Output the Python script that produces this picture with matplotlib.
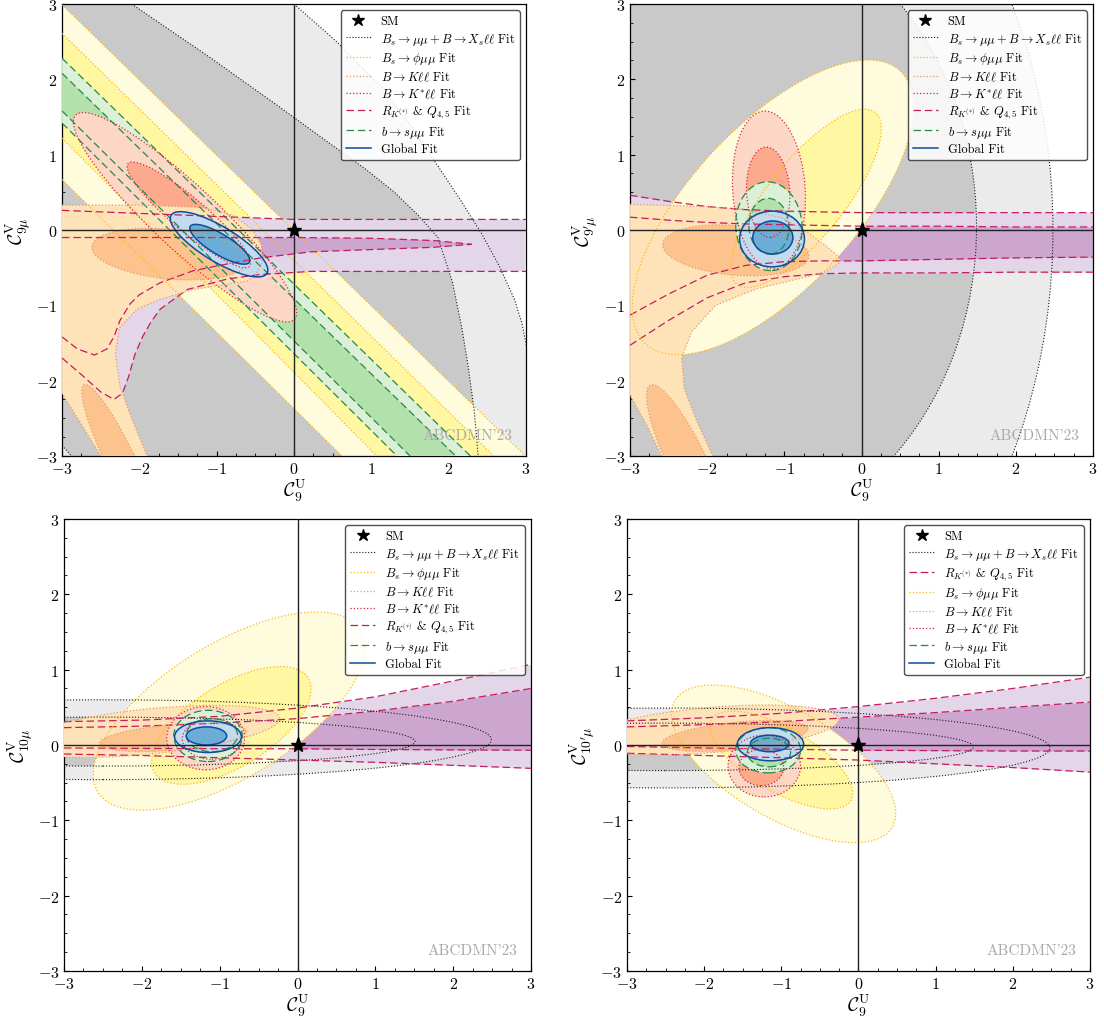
#!/usr/bin/env python3
import numpy as np
import matplotlib
matplotlib.use('Agg')
import matplotlib.pyplot as plt
from matplotlib.patches import Ellipse
from matplotlib.lines import Line2D
from matplotlib.ticker import MultipleLocator, AutoMinorLocator

plt.rcParams.update({
    'font.family': 'serif',
    'font.serif': ['cmr10'],
    'mathtext.fontset': 'cm',
    'axes.formatter.use_mathtext': True,
    'axes.linewidth': 0.9,
})

# ---------------- data ----------------
# ellipses: (x0, y0, width, height, angle), listed as [2 sigma, 1 sigma]
# straight bands: (y at x=-3, x at y=-3) for upper and lower edge

# top left: C9U vs C9muV
tl_gray_outer_x = [0.0, 0.55, 1.12, 1.5, 1.86, 2.15, 2.42, 2.65, 2.85, 2.95, 3.02]
tl_gray_outer_y = [3.0, 2.5, 1.91, 1.4, 0.85, 0.4, -0.04, -0.47, -0.92, -1.25, -1.62]
tl_gray_inner_x = [-2.1, -1.1, -0.17, 0.5, 0.91, 1.3, 1.6, 1.86, 2.05, 2.17, 2.25, 2.33, 2.38]
tl_gray_inner_y = [3.0, 2.3, 1.62, 1.12, 0.82, 0.5, 0.2, -0.1, -0.7, -1.3, -1.8, -2.4, -3.0]
tl_gray_corner_x = [-3.0, -2.88]
tl_gray_corner_y = [-2.86, -3.0]
tl_phi_2s = [(2.99, 2.99), (0.67, 0.62)]
tl_phi_1s = [(2.61, 2.58), (1.22, 1.07)]
tl_bsmm_2s = [(2.28, 2.28), (1.42, 1.33)]
tl_bsmm_1s = [(2.08, 2.09), (1.58, 1.50)]
tl_kll_x = [-3.0, -2.0, -1.2, -0.8, -0.55, -0.42, -0.42, -0.5, -0.61, -1.3, -1.73,
            -2.03, -2.26, -2.31, -2.25, -2.12, -1.9]
tl_kll_y = [0.33, 0.33, 0.3, 0.2, 0.02, -0.2, -0.45, -0.6, -0.68, -0.79, -0.92,
            -1.05, -1.3, -1.65, -2.08, -2.45, -3.0]
tl_kll_left_x = [-2.5, -2.75, -3.0]
tl_kll_left_y = [-3.0, -2.58, -2.17]
tl_kll_1s = [(-1.61, -0.32, 2.02, 0.66, -5.7), (-2.25, -3.05, 2.2, 0.38, 115)]
tl_ksll = [(-1.41, 0.17, 3.92, 0.84, -43.8), (-1.36, 0.2, 2.08, 0.44, -41)]
tl_glob = [(-0.97, -0.19, 1.46, 0.46, -32), (-0.96, -0.19, 0.9, 0.27, -32)]
tl_rk_top2_x = [-3.0, -1.5, 0.0, 3.0]
tl_rk_top2_y = [0.26, 0.2, 0.14, 0.14]
tl_rk_bot2_x = [-3.0, -2.75, -2.5, -2.33, -2.22, -2.14, -2.06, -1.96, -1.85, -1.73,
                -1.38, -0.86, -0.43, 0.22, 3.0]
tl_rk_bot2_y = [-1.7, -1.92, -2.15, -2.25, -2.17, -1.95, -1.66, -1.42, -1.22, -1.05,
                -0.79, -0.65, -0.59, -0.55, -0.55]
tl_rk_top1_x = [-3.0, 0.0, 1.0, 1.8, 2.3]
tl_rk_top1_y = [-0.1, -0.1, -0.11, -0.14, -0.19]
tl_rk_bot1_x = [-3.0, -2.8, -2.58, -2.42, -2.33, -2.25, -2.12, -2.0, -1.73, -1.3,
                -0.86, -0.43, 0.22, 1.0, 1.8, 2.3]
tl_rk_bot1_y = [-1.42, -1.58, -1.66, -1.58, -1.42, -1.2, -0.98, -0.86, -0.7, -0.54,
                -0.45, -0.37, -0.29, -0.26, -0.23, -0.19]

# top right: C9U vs C9'muV
tr_gray = [(-2.0, 0.0, 8.96, 12.7, 0), (-2.0, 0.05, 6.98, 8.46, 0)]
tr_rk_x = [-3.0, -2.5, -2.0, -1.5, -1.0, -0.5, 0.0, 1.0, 2.0, 3.0]
tr_rk_top2 = [0.46, 0.38, 0.31, 0.27, 0.25, 0.24, 0.23, 0.23, 0.23, 0.23]
tr_rk_top1 = [0.17, 0.13, 0.1, 0.08, 0.07, 0.06, 0.05, 0.05, 0.04, 0.04]
tr_rk_bot1 = [-1.13, -0.85, -0.6, -0.47, -0.42, -0.41, -0.41, -0.39, -0.37, -0.36]
tr_rk_bot2 = [-1.53, -1.2, -0.9, -0.7, -0.62, -0.58, -0.57, -0.57, -0.56, -0.56]
tr_phi = [(-1.15, 0.3, 4.9, 2.14, 48), (-0.72, 0.42, 2.9, 1.0, 52)]
tr_kll_x = [-3.0, -2.0, -1.6, -1.05, -0.7, -0.45, -0.3, -0.28, -0.45, -0.7, -1.36,
            -1.89, -2.2, -2.33, -2.3, -2.15, -1.93]
tr_kll_y = [0.34, 0.31, 0.28, 0.17, -0.03, -0.22, -0.35, -0.43, -0.55, -0.62, -0.78,
            -1.0, -1.35, -1.69, -2.1, -2.5, -3.0]
tr_kll_left_x = [-2.59, -2.78, -3.0]
tr_kll_left_y = [-3.0, -2.6, -2.19]
tr_kll_1s = [(-1.63, -0.27, 1.9, 0.66, -5), (-2.25, -3.1, 2.3, 0.5, 115)]
tr_ksll = [(-1.2, 0.53, 0.94, 2.1, 3.5), (-1.21, 0.5, 0.56, 1.2, 3)]
tr_bsmm = [(-1.2, 0.05, 0.86, 1.18, 4), (-1.2, 0.05, 0.52, 0.74, 3)]
tr_glob = [(-1.16, -0.12, 0.84, 0.74, 0), (-1.15, -0.1, 0.52, 0.44, 0)]

# bottom left: C9U vs C10muV
bl_gray = [(-2.5, 0.07, 9.98, 1.06, 0), (-2.5, 0.045, 8.02, 0.65, 0)]
bl_rk_x = [-3.0, -2.0, -1.0, 0.0, 1.0, 2.0, 3.0]
bl_rk_top2 = [0.31, 0.33, 0.38, 0.49, 0.64, 0.85, 1.07]
bl_rk_top1 = [0.23, 0.25, 0.29, 0.35, 0.45, 0.58, 0.75]
bl_rk_bot1 = [-0.04, -0.045, -0.05, -0.05, -0.06, -0.065, -0.07]
bl_rk_bot2 = [-0.12, -0.14, -0.17, -0.2, -0.23, -0.27, -0.31]
bl_phi = [(-0.88, 0.45, 4.0, 1.76, 33), (-0.85, 0.26, 2.34, 1.08, 33)]
bl_kll = [(-1.9, 0.18, 3.36, 0.6, 6), (-1.6, 0.1, 1.9, 0.34, 5)]
bl_ksll = [(-1.18, 0.09, 1.0, 0.84, 0), (-1.1, 0.08, 0.76, 0.54, 0)]
bl_bsmm = [(-1.15, 0.12, 0.88, 0.68, 0), (-1.1, 0.13, 0.66, 0.44, 0)]
bl_glob = [(-1.15, 0.11, 0.86, 0.42, 0), (-1.17, 0.12, 0.52, 0.24, 0)]

# bottom right: C9U vs C10'muV
br_gray = [(-2.5, -0.04, 9.96, 1.06, 0), (-2.5, -0.025, 7.98, 0.63, 0)]
br_rk_x = [-3.0, -2.0, -1.0, 0.0, 1.0, 2.0, 3.0]
br_rk_top2 = [0.32, 0.36, 0.42, 0.51, 0.62, 0.75, 0.9]
br_rk_top1 = [0.24, 0.27, 0.31, 0.37, 0.43, 0.5, 0.57]
br_rk_bot1 = [-0.02, -0.04, -0.055, -0.07, -0.075, -0.08, -0.08]
br_rk_bot2 = [-0.11, -0.14, -0.17, -0.2, -0.25, -0.3, -0.36]
br_phi = [(-0.97, -0.25, 3.28, 1.44, -31), (-1.0, -0.2, 2.1, 0.84, -31)]
br_kll = [(-1.9, 0.2, 3.3, 0.6, 5), (-1.6, 0.12, 1.9, 0.36, 6)]
br_ksll = [(-1.22, -0.28, 0.94, 0.82, 0), (-1.26, -0.3, 0.58, 0.48, 0)]
br_bsmm = [(-1.17, -0.07, 0.84, 0.6, 0), (-1.16, -0.1, 0.56, 0.38, 0)]
br_glob = [(-1.14, 0.01, 0.86, 0.44, 0), (-1.15, 0.02, 0.5, 0.22, 0)]

labels = {
    'sm': 'SM',
    'gray': r'$B_s\to\mu\mu + B\to X_s\ell\ell$ Fit',
    'phi': r'$B_s\to\phi\mu\mu$ Fit',
    'kll': r'$B\to K\ell\ell$ Fit',
    'ksll': r'$B\to K^{*}\ell\ell$ Fit',
    'rk': r'$R_{K^{(*)}}$ & $Q_{4,5}$ Fit',
    'bsmm': r'$b\to s\mu\mu$ Fit',
    'glob': 'Global Fit',
}
order_main = ['sm', 'gray', 'phi', 'kll', 'ksll', 'rk', 'bsmm', 'glob']
order_br = ['sm', 'gray', 'rk', 'phi', 'kll', 'ksll', 'bsmm', 'glob']

# ---------------- styles ----------------
sty = {
    'gray': dict(c1='#c9c9c9', c2='#ebebeb', lc='#1a1a1a', ls=':', lw=0.8),
    'phi':  dict(c1='#fff7a1', c2='#fffbdd', lc='#fdb813', ls=':', lw=0.9),
    'kll':  dict(c1='#fdc38e', c2='#fee3b9', lc='#e39a68', ls=':', lw=0.9),
    'ksll': dict(c1='#fca98e', c2='#fdd7c6', lc='#d7263d', ls=':', lw=0.9),
    'rk':   dict(c1='#cda6d0', c2='#e3d6e9', lc='#c51b60', ls=(0, (6, 3)), lw=0.9),
    'bsmm': dict(c1='#b4e0ac', c2='#dbf0d6', lc='#238b45', ls=(0, (6, 3)), lw=0.9),
    'glob': dict(c1='#6badd6', c2='#c4daef', lc='#0c4e9b', ls='-', lw=1.1),
}
LZ = 10


def line(ax, x, y, s):
    ax.plot(x, y, color=s['lc'], ls=s['ls'], lw=s['lw'], zorder=LZ)


def add_ell(ax, ells, s, z):
    for e, fc, dz in ((ells[0], s['c2'], 0), (ells[1], s['c1'], 0.1)):
        ax.add_patch(Ellipse((e[0], e[1]), e[2], e[3], angle=e[4], fc=fc, ec='none', zorder=z + dz))
        ax.add_patch(Ellipse((e[0], e[1]), e[2], e[3], angle=e[4], fill=False,
                             ec=s['lc'], ls=s['ls'], lw=s['lw'], zorder=LZ))


def add_band(ax, x, lo2, hi2, lo1, hi1, s, z):
    ax.fill_between(x, lo2, hi2, color=s['c2'], lw=0, zorder=z)
    ax.fill_between(x, lo1, hi1, color=s['c1'], lw=0, zorder=z + 0.1)
    for y in (lo2, hi2, lo1, hi1):
        line(ax, x, y, s)


def add_diag(ax, e2, e1, s, z):
    for (up, lo), fc, dz in ((e2, s['c2'], 0), (e1, s['c1'], 0.1)):
        ax.fill([-3, up[1], lo[1], -3], [up[0], -3, -3, lo[0]], color=fc, lw=0, zorder=z + dz)
        for ed in (up, lo):
            line(ax, [-3, ed[1]], [ed[0], -3], s)


def frame(ax, ylab, order):
    ax.set_xlim(-3, 3)
    ax.set_ylim(-3, 3)
    for a in (ax.xaxis, ax.yaxis):
        a.set_major_locator(MultipleLocator(1))
        a.set_minor_locator(AutoMinorLocator(4))
    ax.tick_params(which='both', direction='in', labelsize=11.5)
    ax.axhline(0, color='#222222', lw=1.0, zorder=11)
    ax.axvline(0, color='#222222', lw=1.0, zorder=11)
    ax.plot(0, 0, marker='*', ms=11, color='k', ls='none', zorder=12)
    ax.set_xlabel(r'$\mathcal{C}_9^{\rm U}$', fontsize=14, labelpad=1)
    ax.set_ylabel(ylab, fontsize=14, labelpad=2)
    ax.text(0.97, 0.046, "ABCDMN'23", transform=ax.transAxes, ha='right', va='center',
            color='#a8a8a8', fontsize=11, zorder=12)
    handles = {'sm': Line2D([], [], marker='*', ms=9, color='k', ls='none')}
    for k in sty:
        handles[k] = Line2D([], [], color=sty[k]['lc'], ls=sty[k]['ls'], lw=sty[k]['lw'])
    leg = ax.legend([handles[k] for k in order], [labels[k] for k in order],
                    loc='upper right', fontsize=9, labelspacing=0.28,
                    edgecolor='#333333', framealpha=0.85)
    leg.set_zorder(20)


fig = plt.figure(figsize=(11.04, 10.2), dpi=100)
ax_tl = fig.add_axes([0.0562, 0.5520, 0.4203, 0.4431])
ax_tr = fig.add_axes([0.5707, 0.5520, 0.4194, 0.4431])
ax_bl = fig.add_axes([0.0580, 0.0471, 0.4230, 0.4431])
ax_br = fig.add_axes([0.5679, 0.0471, 0.4194, 0.4431])

# ---- top left ----
ax = ax_tl
s = sty['gray']
ax.fill([-3] + tl_gray_outer_x + [3, -3], [3] + tl_gray_outer_y + [-3, -3], color=s['c2'], lw=0, zorder=1)
ax.fill([-3] + tl_gray_inner_x + tl_gray_corner_x[::-1], [3] + tl_gray_inner_y + tl_gray_corner_y[::-1],
        color=s['c1'], lw=0, zorder=1.1)
line(ax, tl_gray_outer_x, tl_gray_outer_y, s)
line(ax, tl_gray_inner_x, tl_gray_inner_y, s)
line(ax, tl_gray_corner_x, tl_gray_corner_y, s)
add_diag(ax, tl_phi_2s, tl_phi_1s, sty['phi'], 2)
add_diag(ax, tl_bsmm_2s, tl_bsmm_1s, sty['bsmm'], 3)
add_ell(ax, tl_ksll, sty['ksll'], 4)
s = sty['rk']
ax.fill(tl_rk_top2_x + tl_rk_bot2_x[::-1], tl_rk_top2_y + tl_rk_bot2_y[::-1], color=s['c2'], lw=0, zorder=5)
ax.fill(tl_rk_top1_x + tl_rk_bot1_x[::-1], tl_rk_top1_y + tl_rk_bot1_y[::-1], color=s['c1'], lw=0, zorder=5.1)
for xx, yy in ((tl_rk_top2_x, tl_rk_top2_y), (tl_rk_bot2_x, tl_rk_bot2_y),
               (tl_rk_top1_x, tl_rk_top1_y), (tl_rk_bot1_x, tl_rk_bot1_y)):
    line(ax, xx, yy, s)
s = sty['kll']
ax.fill(tl_kll_x + tl_kll_left_x, tl_kll_y + tl_kll_left_y, color=s['c2'], lw=0, zorder=6)
line(ax, tl_kll_x, tl_kll_y, s)
line(ax, tl_kll_left_x, tl_kll_left_y, s)
for e in tl_kll_1s:
    ax.add_patch(Ellipse((e[0], e[1]), e[2], e[3], angle=e[4], fc=s['c1'], ec='none', zorder=6.1))
    ax.add_patch(Ellipse((e[0], e[1]), e[2], e[3], angle=e[4], fill=False, ec=s['lc'], ls=s['ls'], lw=s['lw'], zorder=LZ))
add_ell(ax, tl_glob, sty['glob'], 7)
frame(ax, r'$\mathcal{C}^{\rm V}_{9\mu}$', order_main)

# ---- top right ----
ax = ax_tr
add_ell(ax, tr_gray, sty['gray'], 1)
add_band(ax, tr_rk_x, tr_rk_bot2, tr_rk_top2, tr_rk_bot1, tr_rk_top1, sty['rk'], 2)
add_ell(ax, tr_phi, sty['phi'], 3)
s = sty['kll']
ax.fill(tr_kll_x + tr_kll_left_x, tr_kll_y + tr_kll_left_y, color=s['c2'], lw=0, zorder=4)
line(ax, tr_kll_x, tr_kll_y, s)
line(ax, tr_kll_left_x, tr_kll_left_y, s)
for e in tr_kll_1s:
    ax.add_patch(Ellipse((e[0], e[1]), e[2], e[3], angle=e[4], fc=s['c1'], ec='none', zorder=4.1))
    ax.add_patch(Ellipse((e[0], e[1]), e[2], e[3], angle=e[4], fill=False, ec=s['lc'], ls=s['ls'], lw=s['lw'], zorder=LZ))
add_ell(ax, tr_ksll, sty['ksll'], 5)
add_ell(ax, tr_bsmm, sty['bsmm'], 6)
add_ell(ax, tr_glob, sty['glob'], 7)
frame(ax, r"$\mathcal{C}^{\rm V}_{9'\mu}$", order_main)

# ---- bottom left ----
ax = ax_bl
add_ell(ax, bl_gray, sty['gray'], 1)
add_band(ax, bl_rk_x, bl_rk_bot2, bl_rk_top2, bl_rk_bot1, bl_rk_top1, sty['rk'], 2)
add_ell(ax, bl_phi, sty['phi'], 3)
add_ell(ax, bl_kll, sty['kll'], 4)
add_ell(ax, bl_ksll, sty['ksll'], 5)
add_ell(ax, bl_bsmm, sty['bsmm'], 6)
add_ell(ax, bl_glob, sty['glob'], 7)
frame(ax, r'$\mathcal{C}^{\rm V}_{10\mu}$', order_main)

# ---- bottom right ----
ax = ax_br
add_ell(ax, br_gray, sty['gray'], 1)
add_band(ax, br_rk_x, br_rk_bot2, br_rk_top2, br_rk_bot1, br_rk_top1, sty['rk'], 2)
add_ell(ax, br_phi, sty['phi'], 3)
add_ell(ax, br_kll, sty['kll'], 4)
add_ell(ax, br_ksll, sty['ksll'], 5)
add_ell(ax, br_bsmm, sty['bsmm'], 6)
add_ell(ax, br_glob, sty['glob'], 7)
frame(ax, r"$\mathcal{C}^{\rm V}_{10'\mu}$", order_br)

fig.savefig('out.png', dpi=100)
